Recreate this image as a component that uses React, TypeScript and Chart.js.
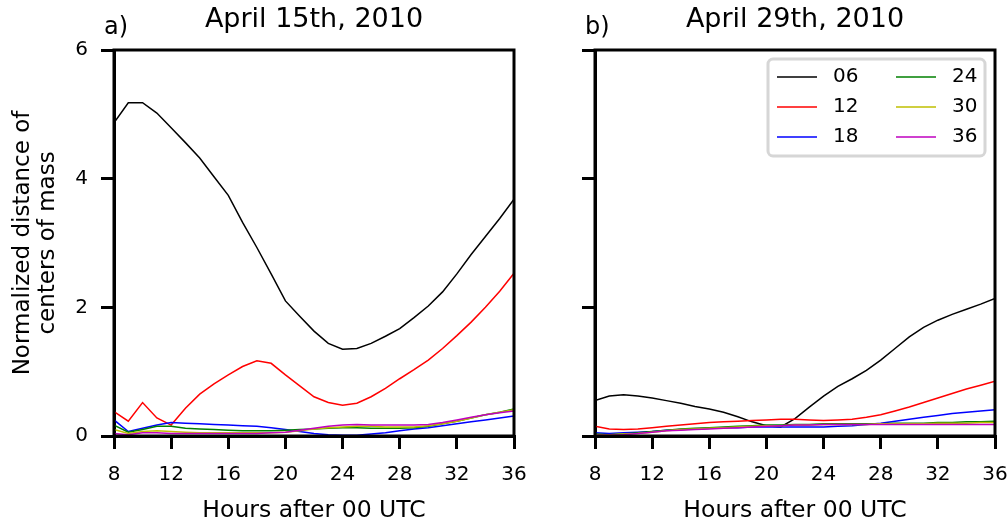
import React, { useEffect, useRef } from 'react';
import { Chart, registerables } from 'chart.js';

Chart.register(...registerables);

const FONT = "'DejaVu Sans', 'Liberation Sans', sans-serif";

// Hours after 00 UTC
const hours = [8, 9, 10, 11, 12, 13, 14, 15, 16, 17, 18, 19, 20, 21, 22, 23, 24, 25, 26, 27, 28, 29, 30, 31, 32, 33, 34, 35, 36];

const seriesLabels = ['06', '12', '18', '24', '30', '36'];
const seriesColors = ['#000000', '#ff0000', '#0000ff', '#008000', '#bfbf00', '#bf00bf'];

const xTicks = [8, 12, 16, 20, 24, 28, 32, 36];
const yTicks = [0, 2, 4, 6];

const panelTags = ['a)', 'b)'];
const panelTitles = ['April 15th, 2010', 'April 29th, 2010'];
const xAxisTitle = 'Hours after 00 UTC';
const yAxisTitle = ['Normalized distance of', 'centers of mass'];

// Panel a) April 15th, 2010
const a06 = [4.87, 5.18, 5.18, 5.02, 4.79, 4.56, 4.32, 4.03, 3.74, 3.32, 2.93, 2.52, 2.1, 1.86, 1.63, 1.44, 1.35, 1.36, 1.44, 1.55, 1.67, 1.84, 2.02, 2.24, 2.52, 2.82, 3.1, 3.38, 3.68];
const a12 = [0.38, 0.23, 0.52, 0.28, 0.17, 0.43, 0.65, 0.81, 0.95, 1.08, 1.17, 1.13, 0.95, 0.78, 0.61, 0.52, 0.48, 0.51, 0.61, 0.74, 0.89, 1.03, 1.18, 1.36, 1.56, 1.77, 2.0, 2.25, 2.53];
const a18 = [0.25, 0.07, 0.12, 0.17, 0.21, 0.2, 0.19, 0.18, 0.17, 0.16, 0.15, 0.13, 0.1, 0.07, 0.04, 0.02, 0.01, 0.01, 0.03, 0.05, 0.08, 0.11, 0.13, 0.16, 0.19, 0.22, 0.25, 0.28, 0.31];
const a24 = [0.17, 0.06, 0.1, 0.15, 0.15, 0.12, 0.11, 0.1, 0.09, 0.08, 0.08, 0.08, 0.09, 0.1, 0.11, 0.12, 0.13, 0.13, 0.12, 0.12, 0.12, 0.13, 0.15, 0.19, 0.23, 0.28, 0.33, 0.37, 0.42];
const a30 = [0.1, 0.04, 0.07, 0.08, 0.07, 0.06, 0.05, 0.05, 0.05, 0.05, 0.05, 0.05, 0.06, 0.08, 0.11, 0.13, 0.14, 0.15, 0.15, 0.14, 0.14, 0.14, 0.16, 0.19, 0.23, 0.28, 0.33, 0.37, 0.41];
const a36 = [0.04, 0.02, 0.05, 0.05, 0.04, 0.04, 0.04, 0.04, 0.04, 0.04, 0.04, 0.05, 0.06, 0.09, 0.12, 0.15, 0.17, 0.18, 0.17, 0.17, 0.17, 0.17, 0.18, 0.21, 0.25, 0.29, 0.33, 0.36, 0.39];

// Panel b) April 29th, 2010
const b06 = [0.55, 0.62, 0.64, 0.62, 0.59, 0.55, 0.51, 0.46, 0.42, 0.37, 0.3, 0.22, 0.16, 0.14, 0.27, 0.45, 0.62, 0.77, 0.89, 1.02, 1.18, 1.36, 1.54, 1.69, 1.8, 1.89, 1.97, 2.05, 2.14];
const b12 = [0.15, 0.11, 0.1, 0.11, 0.13, 0.15, 0.17, 0.19, 0.21, 0.22, 0.23, 0.24, 0.25, 0.26, 0.26, 0.25, 0.24, 0.25, 0.26, 0.29, 0.33, 0.39, 0.45, 0.52, 0.59, 0.66, 0.73, 0.79, 0.85];
const b18 = [0.05, 0.04, 0.05, 0.06, 0.07, 0.09, 0.1, 0.11, 0.12, 0.13, 0.13, 0.14, 0.14, 0.14, 0.14, 0.14, 0.14, 0.15, 0.16, 0.18, 0.2, 0.23, 0.26, 0.29, 0.32, 0.35, 0.37, 0.39, 0.41];
const b24 = [0.03, 0.02, 0.03, 0.05, 0.07, 0.09, 0.11, 0.12, 0.13, 0.14, 0.15, 0.16, 0.17, 0.17, 0.18, 0.18, 0.19, 0.19, 0.19, 0.19, 0.19, 0.2, 0.2, 0.2, 0.21, 0.21, 0.22, 0.22, 0.23];
const b30 = [0.02, 0.02, 0.03, 0.04, 0.06, 0.08, 0.1, 0.11, 0.12, 0.13, 0.14, 0.15, 0.16, 0.16, 0.17, 0.17, 0.18, 0.18, 0.18, 0.18, 0.19, 0.19, 0.19, 0.19, 0.2, 0.2, 0.2, 0.21, 0.21];
const b36 = [0.01, 0.01, 0.02, 0.04, 0.06, 0.08, 0.09, 0.1, 0.11, 0.12, 0.13, 0.14, 0.15, 0.16, 0.17, 0.17, 0.18, 0.18, 0.18, 0.18, 0.18, 0.18, 0.18, 0.18, 0.18, 0.18, 0.18, 0.18, 0.18];

const panelSeries = [
  [a06, a12, a18, a24, a30, a36],
  [b06, b12, b18, b24, b30, b36],
];

const framePlugin = {
  id: 'frame',
  afterDraw(chart: any, _args: any, o: any) {
    const { ctx, chartArea: a } = chart;
    ctx.save();
    ctx.strokeStyle = '#000';
    ctx.lineWidth = 3;
    ctx.strokeRect(a.left, a.top, a.right - a.left, a.bottom - a.top);

    ctx.fillStyle = '#000';
    ctx.textBaseline = 'alphabetic';
    ctx.textAlign = 'left';
    ctx.font = `24px ${FONT}`;
    ctx.fillText(o.tag, a.left - 10, 34);
    ctx.textAlign = 'center';
    ctx.font = `27px ${FONT}`;
    ctx.fillText(o.title, (a.left + a.right) / 2, 27);

    if (o.legend) {
      const bw = 217;
      const bh = 97;
      const bx = a.right - 227;
      const by = a.top + 9;
      const r = 5;
      ctx.beginPath();
      ctx.moveTo(bx + r, by);
      ctx.arcTo(bx + bw, by, bx + bw, by + bh, r);
      ctx.arcTo(bx + bw, by + bh, bx, by + bh, r);
      ctx.arcTo(bx, by + bh, bx, by, r);
      ctx.arcTo(bx, by, bx + bw, by, r);
      ctx.closePath();
      ctx.fillStyle = '#ffffff';
      ctx.fill();
      ctx.strokeStyle = '#d6d6d6';
      ctx.lineWidth = 3;
      ctx.stroke();

      const ds = chart.data.datasets;
      ctx.font = `20px ${FONT}`;
      ctx.textAlign = 'left';
      ctx.textBaseline = 'middle';
      ds.forEach((d: any, i: number) => {
        const col = Math.floor(i / 3);
        const row = i % 3;
        const y = by + 18 + row * 30;
        const lx = bx + 9 + col * 119;
        ctx.strokeStyle = d.borderColor;
        ctx.lineWidth = 1.5;
        ctx.beginPath();
        ctx.moveTo(lx, y);
        ctx.lineTo(lx + 40, y);
        ctx.stroke();
        ctx.fillStyle = '#000';
        ctx.fillText(d.label, lx + 56, y);
      });
    }
    ctx.restore();
  },
};

function makeConfig(panel: number): any {
  const isLeft = panel === 0;
  const datasets = seriesLabels.map((lab, i) => ({
    label: lab,
    data: hours.map((h, k) => ({ x: h, y: panelSeries[panel][i][k] })),
    borderColor: seriesColors[i],
    backgroundColor: seriesColors[i],
    borderWidth: 1.5,
    pointRadius: 0,
    tension: 0,
    fill: false,
    order: seriesLabels.length - i,
  }));
  const grid = {
    display: true,
    drawOnChartArea: false,
    drawTicks: true,
    tickLength: 13,
    tickWidth: 3,
    tickColor: '#000',
    color: '#000',
    lineWidth: 3,
  };
  return {
    type: 'line',
    data: { datasets },
    options: {
      animation: false,
      responsive: false,
      maintainAspectRatio: false,
      devicePixelRatio: 1,
      layout: { padding: { left: 0, right: isLeft ? 36 : 13, top: 50, bottom: 0 } },
      plugins: {
        legend: { display: false },
        tooltip: { enabled: false },
        title: { display: false },
        frame: { tag: panelTags[panel], title: panelTitles[panel], legend: !isLeft },
      },
      scales: {
        x: {
          type: 'linear',
          position: 'bottom',
          min: xTicks[0],
          max: xTicks[xTicks.length - 1],
          afterBuildTicks: (s: any) => { s.ticks = xTicks.map((v) => ({ value: v })); },
          afterFit: (s: any) => {
            s.height = 91;
            s.paddingLeft = 0;
            s.paddingRight = 0;
          },
          grid,
          border: { display: true, color: '#000', width: 3 },
          ticks: { color: '#000', font: { family: FONT, size: 20 }, padding: 14, maxRotation: 0 },
          title: {
            display: true,
            text: xAxisTitle,
            color: '#000',
            font: { family: FONT, size: 23.5 },
            padding: { top: 0, bottom: 2 },
          },
        },
        y: {
          type: 'linear',
          position: 'left',
          min: yTicks[0],
          max: yTicks[yTicks.length - 1],
          afterBuildTicks: (s: any) => { s.ticks = yTicks.map((v) => ({ value: v })); },
          afterFit: (s: any) => {
            s.width = isLeft ? 114 : 45;
            s.paddingTop = 0;
            s.paddingBottom = 0;
          },
          grid,
          border: { display: true, color: '#000', width: 3 },
          ticks: { display: isLeft, color: '#000', font: { family: FONT, size: 20 }, padding: 13 },
          title: {
            display: isLeft,
            text: yAxisTitle,
            color: '#000',
            font: { family: FONT, size: 23, lineHeight: 1.1 },
            padding: { top: 10, bottom: 0 },
          },
        },
      },
    },
    plugins: [framePlugin],
  };
}

export default function App() {
  const refA = useRef<HTMLCanvasElement>(null);
  const refB = useRef<HTMLCanvasElement>(null);

  useEffect(() => {
    Chart.defaults.font.family = FONT;
    const cA = new Chart(refA.current as HTMLCanvasElement, makeConfig(0));
    const cB = new Chart(refB.current as HTMLCanvasElement, makeConfig(1));
    return () => {
      cA.destroy();
      cB.destroy();
    };
  }, []);

  return (
    <div style={{ position: 'absolute', left: 0, top: 0, width: 1008, height: 527, background: '#fff' }}>
      <canvas ref={refA} width={550} height={527} style={{ position: 'absolute', left: 0, top: 0, width: 550, height: 527 }} />
      <canvas ref={refB} width={458} height={527} style={{ position: 'absolute', left: 550, top: 0, width: 458, height: 527 }} />
    </div>
  );
}
